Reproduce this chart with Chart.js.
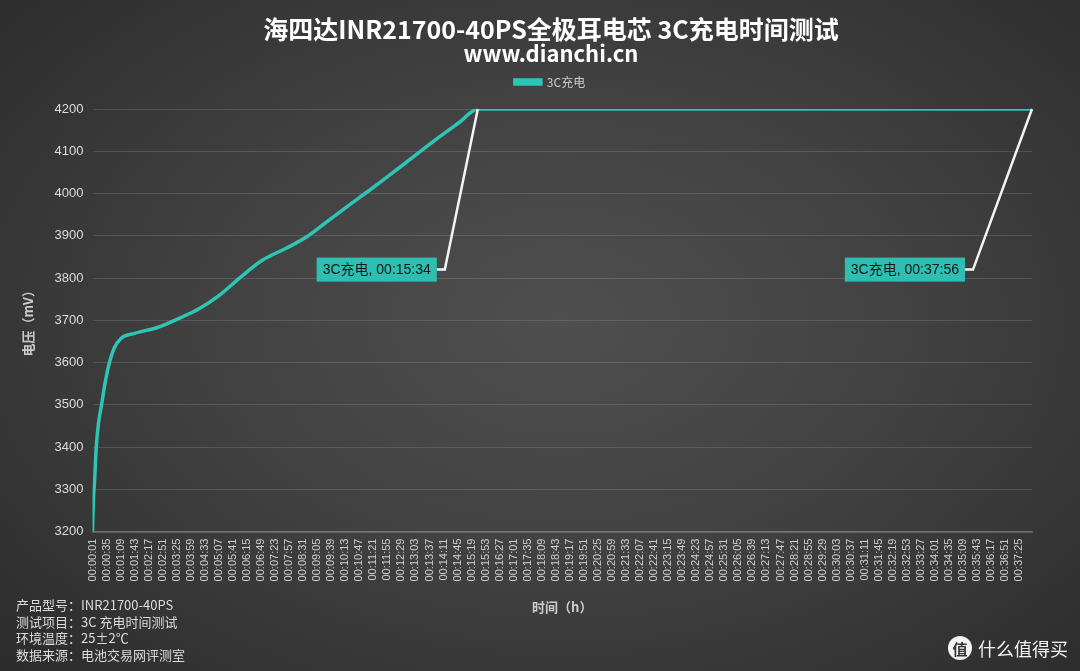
<!DOCTYPE html>
<html>
<head>
<meta charset="utf-8">
<script src="https://cdn.jsdelivr.net/npm/chart.js@4.4.0/dist/chart.umd.min.js"></script>
<style>
  html, body { margin: 0; padding: 0; }
  body {
    width: 1080px; height: 671px; overflow: hidden; position: relative;
    background: radial-gradient(ellipse 70% 75% at 52% 48%, #4f4f4f 0%, #424242 45%, #2c2c2c 100%);
    font-family: "Noto Sans CJK SC", "Noto Sans", sans-serif;
  }
  #wrap { position: absolute; left: 0; top: 0; width: 1080px; height: 671px; }
  .info { position: absolute; left: 16px; top: 597px; color: #dcdcdc; font-size: 13px; line-height: 16.5px; }
  .mark { position: absolute; right: 12px; bottom: 10px; color: #f2f2f2; font-size: 18px; display: flex; align-items: center; }
  .mark .c { width: 24px; height: 24px; border-radius: 50%; background: #f2f2f2; color: #333; font-size: 15px; font-weight: bold;
             display: inline-flex; align-items: center; justify-content: center; margin-right: 6px; }
</style>
</head>
<body>
<div id="wrap"><canvas id="myChart" width="1080" height="671"></canvas></div>
<div class="info">
  <div>产品型号：INR21700-40PS</div>
  <div>测试项目：3C 充电时间测试</div>
  <div>环境温度：25±2℃</div>
  <div>数据来源：电池交易网评测室</div>
</div>
<div class="mark"><span class="c">值</span>什么值得买</div>
<script>
// time in seconds since start, voltage in mV
const timeSec = [1, 3, 6, 10, 16, 23, 32, 42, 54, 70, 103, 158, 216, 260, 308, 357, 412, 471, 519, 567, 616, 679, 761, 841, 889, 934, 2276];
const voltage = [3200, 3270, 3320, 3400, 3460, 3500, 3555, 3600, 3635, 3657, 3669, 3683, 3707, 3728, 3759, 3800, 3842, 3871, 3897, 3932, 3968, 4013, 4074, 4134, 4168, 4200, 4200];

const callouts = [
    { t: 934, label: "3C充电, 00:15:34" },
    { t: 2276, label: "3C充电, 00:37:56" },
];

const titleText = "海四达INR21700-40PS全极耳电芯 3C充电时间测试";
const subtitleText = "www.dianchi.cn";

// x tick labels every 34 s from 00:00:01 to 00:37:25
const tickSec = [];
for (let s = 1; s <= 2245; s += 34) tickSec.push(s);

function fmt(s) {
    const h = Math.floor(s / 3600), m = Math.floor((s % 3600) / 60), ss = s % 60;
    return [h, m, ss].map(v => String(v).padStart(2, "0")).join(":");
}

const teal = "rgb(46, 196, 182)";

// header text is centred a bit right of the canvas middle, like the original
const headerPlugin = {
    id: "header",
    beforeInit(chart) {
        const fit = chart.legend.fit;
        chart.legend.fit = function () {
            fit.call(this);
            this.height += 11;
        };
    },
    afterLayout(chart) {
        chart.legend.left += 26;
        chart.legend.right += 26;
    },
    afterDraw(chart) {
        const { ctx } = chart;
        ctx.save();
        ctx.fillStyle = "#ffffff";
        ctx.textAlign = "center";
        ctx.textBaseline = "middle";
        ctx.font = "bold 25px 'Noto Sans CJK SC'";
        ctx.fillText(titleText, 551, 29);
        ctx.font = "bold 22px 'Noto Sans CJK SC'";
        ctx.fillText(subtitleText, 551, 54);
        ctx.restore();
    }
};

const calloutPlugin = {
    id: "callouts",
    afterDatasetsDraw(chart) {
        const { ctx, scales: { x, y } } = chart;
        const offsets = [33, 59];
        ctx.save();
        ctx.font = "14px 'Liberation Sans', 'Noto Sans CJK SC', sans-serif";
        callouts.forEach((c, i) => {
            const px = x.getPixelForValue(c.t);
            const py = y.getPixelForValue(4200);
            const cx = px - offsets[i];
            const cy = y.getPixelForValue(3820);
            const boxRight = cx - 8;
            const w = ctx.measureText(c.label).width + 12;
            ctx.strokeStyle = "#f4f4f4";
            ctx.lineWidth = 2.5;
            ctx.beginPath();
            ctx.moveTo(px, py);
            ctx.lineTo(cx, cy);
            ctx.lineTo(boxRight, cy);
            ctx.stroke();
            ctx.fillStyle = "rgb(46, 190, 178)";
            ctx.fillRect(boxRight - w, cy - 12, w, 24);
            ctx.fillStyle = "#151515";
            ctx.textBaseline = "middle";
            ctx.textAlign = "left";
            ctx.fillText(c.label, boxRight - w + 6, cy + 1);
        });
        ctx.restore();
    }
};

const ctx = document.getElementById("myChart");

new Chart(ctx, {
    type: "line",
    data: {
        datasets: [{
            label: "3C充电",
            data: timeSec.map((t, i) => ({ x: t, y: voltage[i] })),
            borderColor: teal,
            backgroundColor: teal,
            borderWidth: 3.5,
            pointRadius: 0,
            cubicInterpolationMode: "monotone",
        }, ],
    },
    plugins: [headerPlugin, calloutPlugin],
    options: {
        responsive: false,
        animation: false,
        layout: { padding: { left: 16, right: 48, top: 68, bottom: 52 } },
        plugins: {
            title: { display: false },
            legend: {
                labels: {
                    color: "#cccccc",
                    font: { size: 12, family: "'Noto Sans CJK SC'" },
                    boxWidth: 26,
                    boxHeight: 4,
                    padding: 8,
                },
            },
            tooltip: { enabled: false },
        },
        scales: {
            x: {
                type: "linear",
                min: 1,
                max: 2276,
                afterBuildTicks(axis) {
                    axis.ticks = tickSec.map(v => ({ value: v }));
                },
                ticks: {
                    autoSkip: false,
                    maxRotation: 90,
                    minRotation: 90,
                    color: "#cfcfcf",
                    font: { size: 11, family: "'Liberation Sans'" },
                    padding: 7,
                    callback: v => fmt(v),
                },
                grid: { display: false, drawTicks: false },
                border: { display: true, color: "rgba(255,255,255,0.18)", width: 2 },
                title: {
                    display: true,
                    text: "时间（h）",
                    color: "#cccccc",
                    font: { size: 13, weight: "bold", family: "'Noto Sans CJK SC'" },
                    padding: { top: 11 },
                },
            },
            y: {
                min: 3200,
                max: 4200,
                ticks: {
                    stepSize: 100,
                    color: "#dddddd",
                    font: { size: 13, family: "'Liberation Sans'" },
                    padding: 9,
                    callback: v => String(v),
                },
                grid: { color: "rgba(255,255,255,0.13)", drawTicks: false },
                border: { display: false },
                title: {
                    display: true,
                    text: "电压（mV）",
                    color: "#cccccc",
                    font: { size: 13, weight: "bold", family: "'Noto Sans CJK SC'" },
                    padding: { bottom: 10 },
                },
            },
        },
    },
});
</script>
</body>
</html>
